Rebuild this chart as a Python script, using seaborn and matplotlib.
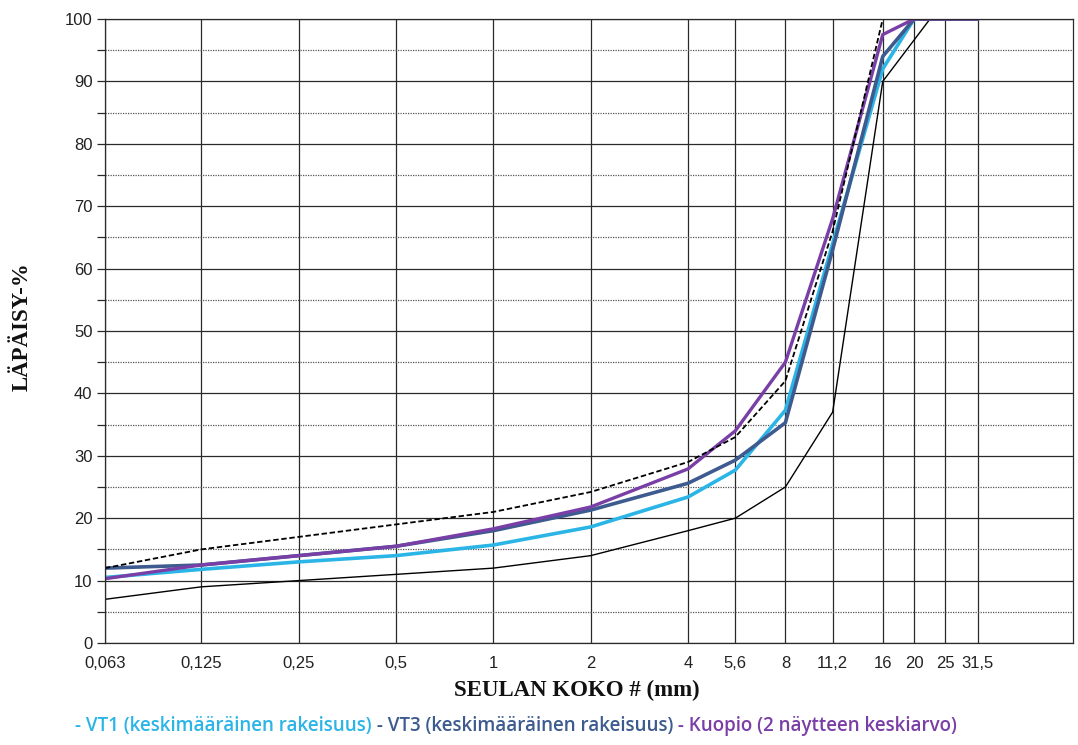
import matplotlib
matplotlib.use("Agg")
import matplotlib.pyplot as plt
import seaborn as sns

# Seulakoot (mm) ja läpäisyprosentit
seulat = [0.063, 0.125, 0.25, 0.5, 1, 2, 4, 5.6, 8, 11.2, 16, 20, 25, 31.5]
seula_labels = ["0,063", "0,125", "0,25", "0,5", "1", "2", "4", "5,6", "8", "11,2", "16", "20", "25", "31,5"]

vt1 = [10.5, 11.8, 13, 14, 15.7, 18.6, 23.4, 27.7, 37.3, 64, 92, 100, 100, 100]
vt3 = [12, 12.5, 14, 15.5, 18, 21.3, 25.6, 29.3, 35.3, 63, 94, 100, 100, 100]
kuopio = [10.3, 12.5, 14, 15.5, 18.3, 21.8, 27.9, 34, 45, 68, 97.5, 100, 100, 100]

# Ohjealueen rajat
ala_x = [0.063, 0.125, 0.25, 0.5, 1, 2, 4, 5.6, 8, 11.2, 16, 22.4, 31.5]
ala_y = [7, 9, 10, 11, 12, 14, 18, 20, 25, 37, 90, 100, 100]
yla_x = [0.063, 0.125, 0.25, 0.5, 1, 2, 4, 5.6, 8, 11.2, 16, 31.5]
yla_y = [12, 15, 17, 19, 21, 24.2, 29, 33, 42, 66, 100, 100]

c_vt1 = "#2bb5e6"
c_vt3 = "#3d5b8f"
c_kuo = "#7a3fa6"

sns.set_style("white")
fig = plt.figure(figsize=(10.78, 7.45), dpi=100)
ax = fig.add_axes([105 / 1078, 1 - 643 / 745, (1073 - 105) / 1078, (643 - 19) / 745])

ax.set_xscale("log", base=2)

sns.lineplot(x=ala_x, y=ala_y, ax=ax, color="black", lw=1.0, sort=False)
sns.lineplot(x=seulat, y=vt1, ax=ax, color=c_vt1, lw=2.6, sort=False)
sns.lineplot(x=seulat, y=vt3, ax=ax, color=c_vt3, lw=2.6, sort=False)
sns.lineplot(x=seulat, y=kuopio, ax=ax, color=c_kuo, lw=2.4, sort=False)
sns.lineplot(x=yla_x, y=yla_y, ax=ax, color="black", lw=1.3, sort=False, linestyle=(0, (3, 1.5)))

ax.set_xlim(0.063, 62)
ax.set_ylim(0, 100)

ax.set_xticks(seulat)
ax.set_xticklabels(seula_labels, fontsize=12, family="Liberation Sans", color="#222222")
ax.xaxis.set_minor_locator(matplotlib.ticker.NullLocator())
ax.set_yticks(range(0, 101, 10))
ax.set_yticklabels([str(v) for v in range(0, 101, 10)], fontsize=12, family="Liberation Sans", color="#222222")
ax.set_yticks(range(5, 100, 10), minor=True)

ax.grid(True, which="major", axis="both", color="#2a2a2a", lw=0.9)
ax.grid(True, which="minor", axis="y", color="#555555", lw=0.9, linestyle=(0, (1, 1)))
ax.set_axisbelow(True)
ax.tick_params(axis="y", which="both", left=True, length=6, width=0.9, color="#2a2a2a", pad=3)
ax.tick_params(axis="x", which="major", bottom=False, pad=6)
for s in ax.spines.values():
    s.set_color("#2a2a2a")
    s.set_linewidth(0.9)

# Akselien otsikot
fig.text(577 / 1078, 1 - 690 / 745, "SEULAN KOKO # (mm)", fontsize=16.5, fontweight="bold",
         family="Liberation Serif", ha="center", va="center", color="#111111")
fig.text(22 / 1078, 1 - 327 / 745, "LÄPÄISY-%", fontsize=16.5, fontweight="bold",
         family="Liberation Serif", ha="center", va="center", rotation=90, color="#111111")

# Selite värillisenä tekstinä
parts = [("- VT1 (keskimääräinen rakeisuus)", c_vt1),
         (" - VT3 (keskimääräinen rakeisuus)", c_vt3),
         (" - Kuopio (2 näytteen keskiarvo)", c_kuo)]
renderer = fig.canvas.get_renderer()
texts = []
for txt, col in parts:
    t = fig.text(0, 1 - 726 / 745, txt, color=col, fontsize=13.5, family="Open Sans",
                 fontweight="semibold", va="center")
    texts.append(t)
widths = [t.get_window_extent(renderer).width for t in texts]
x0 = 75
for t, w in zip(texts, widths):
    t.set_x(x0 / 1078)
    x0 += w

fig.savefig("out.png", dpi=100)
